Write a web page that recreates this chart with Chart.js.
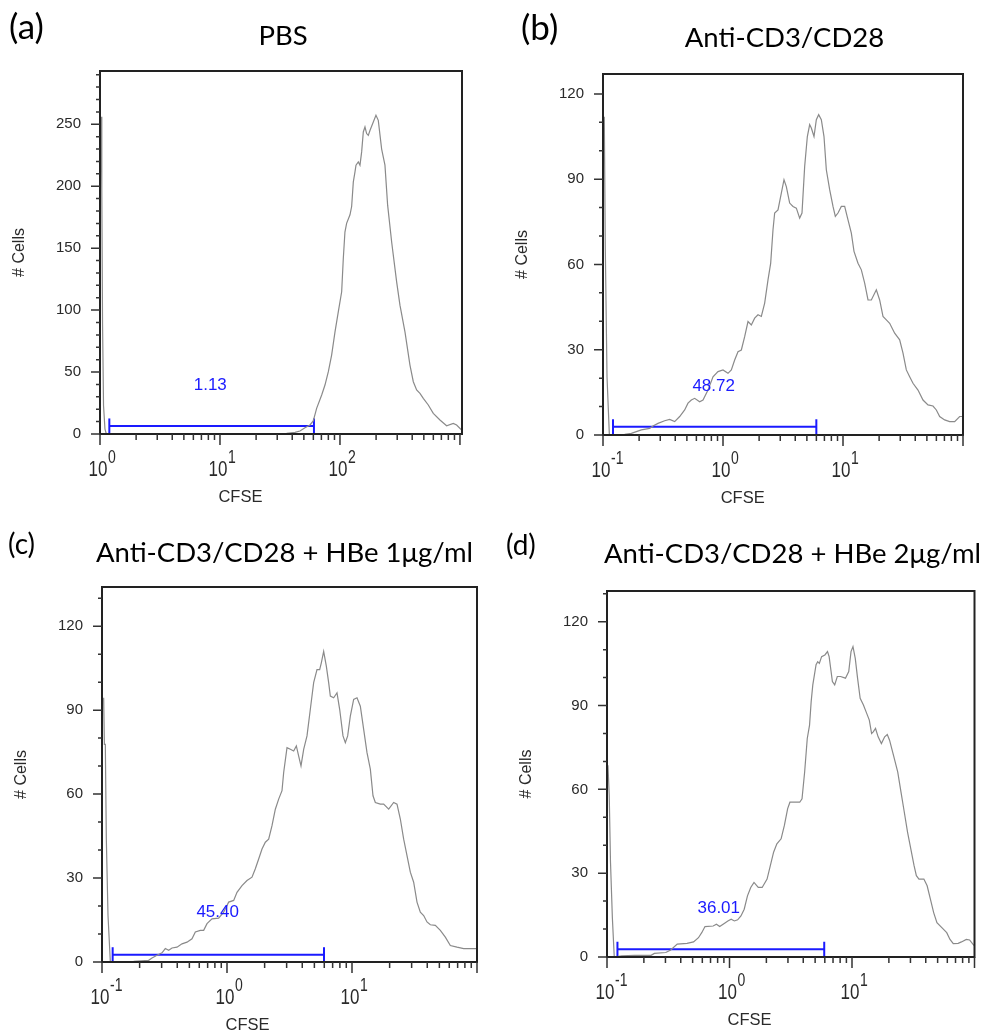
<!DOCTYPE html>
<html>
<head>
<meta charset="utf-8">
<script src="https://cdn.jsdelivr.net/npm/chart.js@4.4.1/dist/chart.umd.min.js"></script>
<style>
  body { margin: 0; background: #fff; width: 984px; height: 1034px; overflow: hidden; position: relative; }
  canvas { position: absolute; }
</style>
</head>
<body>
<canvas id="panelA" width="492" height="517" style="left:0px;top:0px"></canvas>
<canvas id="panelB" width="492" height="517" style="left:492px;top:0px"></canvas>
<canvas id="panelC" width="492" height="517" style="left:0px;top:517px"></canvas>
<canvas id="panelD" width="492" height="517" style="left:492px;top:517px"></canvas>
<script>
// panel names and axis ranges
var panelLetters = ['(a)', '(b)', '(c)', '(d)'];
var panelTitles = ['PBS', 'Anti-CD3/CD28', 'Anti-CD3/CD28 + HBe 1\u03bcg/ml', 'Anti-CD3/CD28 + HBe 2\u03bcg/ml'];
var xMin = [1, 0.1, 0.1, 0.1];
var xMax = [1040, 100, 100, 100];
var yMax = [293, 127, 134, 131];
var yLabelStep = [50, 30, 30, 30];

// histograms (CFSE intensity, # cells)
var pbsCfse = [1.022, 1.035, 1.05, 1.07, 1.10, 1.13,
  35.9, 42.2, 46.4, 51.1, 56.2, 59.9, 63.9, 70.4, 75.0, 80.0,
  85.2, 90.9, 96.9, 103.3, 106.6, 110.0, 113.6, 121.2, 125.1, 129.2,
  133.4, 136.0, 142.2, 146.8, 151.6, 156.5, 161.6, 166.8, 172.2, 177.8,
  189.6, 199.5, 208.6, 222.5, 237.1, 249.6, 269.6, 296.7, 316.2, 348.1,
  383.1, 408.5, 435.5, 464.2, 494.9, 544.6, 599.5, 681.3, 774.3, 879.9,
  938, 1033];
var pbsCells = [256, 197, 89, 23, 4, 0,
  0.5, 1.3, 2.4, 5.1, 7.3, 10.5, 20.7, 31.5, 39.5, 50.3,
  63.7, 82.5, 98.7, 114.8, 141.7, 163, 170, 176.9, 183.6, 203.5,
  211.6, 217, 219.6, 217, 227.7, 243.8, 247.8, 242.5, 241, 245,
  251.9, 257.3, 253.2, 230, 217, 184.7, 155, 122.8, 104, 82.5,
  55.6, 42.2, 35.5, 32.8, 28.8, 23.4, 16.7, 11.3, 6.7, 8.6,
  7.3, 3.2];

var cd3Cfse = [0.1025, 0.1045, 0.108, 0.113,
  0.1516, 0.1722, 0.1896, 0.2086, 0.2448, 0.2610, 0.2873, 0.3265, 0.3594, 0.3957,
  0.4355, 0.4793, 0.5109, 0.5447, 0.5806, 0.6390, 0.6813, 0.7499, 0.8254, 0.9085,
  1.0, 1.1007, 1.1735, 1.2510, 1.3335, 1.4218, 1.5157, 1.6156, 1.7223, 1.8362,
  1.9574, 2.0866, 2.2244, 2.3714, 2.4956, 2.6102, 2.6950, 2.8731, 3.0627, 3.2234,
  3.3710, 3.5938, 3.8309, 4.0840, 4.3539, 4.5529, 4.7931, 5.0445, 5.2750, 5.4463,
  5.7322, 5.9948, 6.2688, 6.5975, 6.9443, 7.2617, 7.7426, 8.2540, 8.6310, 9.0846,
  9.6850, 10.325, 11.007, 11.735, 12.350, 13.335, 14.218, 15.157, 16.156, 17.223,
  18.957, 20.210, 21.544, 22.967, 24.484, 26.950, 29.664, 31.623, 33.711, 35.938,
  38.309, 42.170, 46.416, 51.09, 56.23, 59.95, 63.91, 70.35, 77.43, 85.23,
  93.8, 100];
var cd3Cells = [112, 66, 20.5, 0,
  0.2, 0.6, 1.2, 1.8, 2.3, 3.2, 4.1, 5.0, 5.5, 4.7,
  6.5, 8.8, 11.2, 12.3, 12.9, 11.7, 12.3, 15.8, 20.5, 22.3,
  22.9, 21.7, 22.9, 26.4, 29.3, 29.9, 34.6, 39.9, 38.7, 41.1,
  42.3, 41.7, 46.4, 54.6, 60.4, 72.2, 78.1, 79.2, 85.1, 89.8,
  87.4, 81.6, 80.4, 79.8, 76.3, 78.1, 94.5, 105, 109.2, 108,
  105, 110.9, 112.7, 110.9, 105, 93.3, 86.3, 80.4, 76.9, 78.1,
  80.4, 80.4, 75.7, 71, 64.6, 60.4, 58.1, 53.4, 47.5, 47.5,
  51.1, 47.5, 41.7, 40.5, 39.3, 35.8, 33.5, 28.8, 22.9, 20.5,
  18.2, 15.8, 12.3, 10.6, 10.2, 8.8, 6.5, 5.3, 4.7, 4.7,
  6.5, 6.5];

var hbe1Cfse = [0.1031, 0.1045, 0.1063, 0.1083, 0.1117, 0.1166,
  0.1792, 0.2362, 0.2512, 0.2754, 0.3020, 0.3210, 0.3415, 0.3631, 0.3981, 0.4365,
  0.4786, 0.5248, 0.5580, 0.6119, 0.6506, 0.6918, 0.7586, 0.8577, 0.9404, 1.0312,
  1.1307, 1.2023, 1.3183, 1.4454, 1.5849, 1.6853, 1.7920, 1.9055, 2.0262, 2.1544,
  2.2909, 2.4360, 2.5903, 2.7542, 2.8404, 3.0200, 3.2119, 3.4145, 3.5871, 3.7448,
  3.9084, 4.1058, 4.3652, 4.6416, 4.9353, 5.2481, 5.5118, 5.6833, 5.9330, 6.2320,
  6.5063, 6.7090, 7.1350, 7.5858, 7.9676, 8.4723, 8.8444, 9.2332, 9.6980, 10.312,
  10.965, 11.659, 12.398, 13.183, 14.017, 14.723, 15.371, 16.855, 17.920, 19.651,
  21.544, 22.909, 24.360, 25.903, 27.542, 29.286, 31.140, 33.113, 35.209, 37.439,
  39.811, 42.329, 46.416, 50.896, 55.807, 61.192, 69.183, 78.22, 94.04, 100];
var hbe1Cells = [94.4, 77.8, 77.8, 44, 16.6, 0,
  0.2, 0.6, 1.4, 2.4, 3.3, 4.8, 4.2, 5.0, 5.3, 6.5,
  7.1, 8.3, 10.7, 11.3, 11.3, 13.7, 15.4, 15.7, 17.8, 21.4,
  22.0, 24.9, 27.3, 29.1, 30.3, 33.3, 36.8, 40.4, 42.8, 43.9,
  48.7, 54.6, 58.2, 61.2, 67.7, 76.6, 76.0, 75.4, 77.2, 73.6,
  70.1, 76.0, 80.8, 90.3, 99.8, 104.5, 104.5, 106.9, 111.0, 105.7,
  99.8, 95.0, 94.4, 96.2, 90.3, 80.8, 78.4, 80.8, 87.9, 93.8,
  94.4, 91.4, 83.1, 74.8, 68.9, 59.4, 57.0, 56.4, 56.4, 54.6,
  57.0, 56.4, 51.1, 43.9, 38.0, 32.1, 28.5, 21.4, 17.8, 16.6,
  14.3, 13.3, 13.1, 11.3, 8.9, 5.9, 5.3, 4.8, 4.8, 4.8];

var hbe2Cfse = [0.1018, 0.1043, 0.1068, 0.1106, 0.1146,
  0.1318, 0.1685, 0.2291, 0.2436, 0.3020, 0.3311, 0.3744, 0.4500, 0.5088, 0.5580,
  0.5934, 0.6310, 0.7356, 0.7820, 0.8318, 0.9120, 0.9698, 1.0312, 1.0965, 1.1659,
  1.2398, 1.3183, 1.4017, 1.4905, 1.5849, 1.7170, 1.8478, 2.0262, 2.1544, 2.2909,
  2.4360, 2.6382, 2.8054, 2.9836, 3.1140, 3.4145, 3.7448, 3.9084, 4.1058, 4.3132,
  4.5027, 4.6416, 4.7863, 5.0895, 5.2481, 5.4117, 5.6494, 6.0078, 6.3096, 6.5063,
  6.9183, 7.2225, 7.5858, 8.0664, 8.8444, 9.4044, 9.8175, 10.186, 10.633, 11.101,
  11.659, 12.398, 13.183, 13.845, 14.454, 14.905, 15.560, 16.343, 17.378, 18.478,
  19.409, 20.262, 21.817, 23.632, 25.119, 26.710, 28.402, 30.200, 32.119, 33.527,
  35.209, 38.614, 41.058, 43.652, 46.416, 49.353, 54.117, 59.330, 63.096, 67.093,
  73.564, 78.22, 85.77, 91.20, 96.98, 100];
var hbe2Cells = [68.6, 57.8, 33.9, 14.1, 0,
  0.4, 0.6, 0.6, 1.3, 1.6, 2.5, 4.6, 4.9, 5.4, 6.9,
  8.7, 10.9, 11.1, 11.7, 10.9, 12.1, 12.9, 13.5, 12.9, 13.3,
  14.7, 17.1, 21.9, 24.9, 26.7, 24.9, 24.9, 27.9, 32.7, 37.5,
  40.5, 42.3, 47.1, 53.1, 55.4, 55.4, 55.4, 56.6, 66.2, 78.2,
  83.0, 91.4, 97.4, 104.6, 105.7, 105.1, 107.5, 108.1, 109.3, 107.5,
  98.6, 97.4, 100.4, 100.4, 99.8, 102.2, 109.3, 111.1, 106.9, 99.8,
  92.6, 90.2, 87.2, 84.8, 80, 80.6, 81.8, 78.8, 76.4, 78.8,
  79.6, 77.6, 72.2, 66.2, 59.0, 51.9, 44.7, 38.7, 32.7, 29.1,
  27.9, 27.9, 25.5, 20.7, 15.9, 12.3, 10.5, 8.7, 6.3, 4.8,
  4.9, 5.4, 6.3, 6.1, 4.6, 4.0];

// marker gates (range, level, percentage label)
var gateLow = [1.196, 0.1212, 0.1217, 0.1217];
var gateHigh = [60.7, 5.995, 5.97, 5.933];
var gateLevel = [6.5, 2.9, 2.6, 2.75];
var gateText = ['1.13', '48.72', '45.40', '36.01'];
var gateTextX = [8.3, 0.836, 0.842, 0.817];
var gateTextY = [39, 17, 17.6, 17.4];

var seriesCfse = [pbsCfse, cd3Cfse, hbe1Cfse, hbe2Cfse];
var seriesCells = [pbsCells, cd3Cells, hbe1Cells, hbe2Cells];

// canvas layout, one per panel
var boxes = [
  { id: 'panelA', pad: { left: 0, top: 71, right: 30, bottom: 83 }, yW: 100, letterX: 9, letterY: 39, letterSize: 35, titleX: 283, titleY: 45 },
  { id: 'panelB', pad: { left: 0, top: 74, right: 21, bottom: 82 }, yW: 111, letterX: 29, letterY: 40, letterSize: 35, titleX: 292.5, titleY: 47 },
  { id: 'panelC', pad: { left: 0, top: 70, right: 15, bottom: 72 }, yW: 102, letterX: 8, letterY: 37, letterSize: 28, titleX: 284.5, titleY: 45 },
  { id: 'panelD', pad: { left: 0, top: 74, right: 2, bottom: 77 }, yW: 115, letterX: 14, letterY: 38, letterSize: 28, titleX: 300.5, titleY: 46 }
];

var SANS = '"Liberation Sans", Arial, sans-serif';
var BLUE = '#1a1aff';

var decor = {
  id: 'decor',
  afterDraw: function (chart, args, o) {
    var ctx = chart.ctx, a = chart.chartArea;
    var xs = chart.scales.x, ys = chart.scales.y;
    ctx.save();

    // frame
    ctx.strokeStyle = '#222';
    ctx.lineWidth = 2;
    ctx.strokeRect(a.left, a.top, a.right - a.left, a.bottom - a.top);

    // tick marks
    ctx.strokeStyle = '#333';
    ctx.lineWidth = 1.5;
    ctx.beginPath();
    for (var v = 0; v <= ys.max; v += 10) {
      var py = ys.getPixelForValue(v);
      var len = v % o.labelStep === 0 ? 9 : 4;
      ctx.moveTo(a.left - len, py);
      ctx.lineTo(a.left, py);
    }
    var e0 = Math.round(Math.log10(xs.min)), e1 = Math.ceil(Math.log10(xs.max));
    for (var e = e0; e <= e1; e++) {
      for (var m = 1; m < 10; m++) {
        var val = m * Math.pow(10, e);
        if (val < xs.min * 0.999 || val > xs.max * 1.001) continue;
        var px = xs.getPixelForValue(val);
        ctx.moveTo(px, a.bottom);
        ctx.lineTo(px, a.bottom + (m === 1 ? 11 : 6));
      }
    }
    ctx.stroke();

    // decade labels 10^n
    ctx.fillStyle = '#2a2a2a';
    ctx.textBaseline = 'alphabetic';
    for (e = e0; e <= e1; e++) {
      var dv = Math.pow(10, e);
      if (dv < xs.min * 0.999 || dv > xs.max * 0.95) continue;
      var dx = xs.getPixelForValue(dv);
      ctx.save();
      ctx.translate(dx, a.bottom + 42);
      ctx.scale(1, 1.25);
      ctx.font = '17px ' + SANS;
      ctx.textAlign = 'right';
      ctx.fillText('10', 7.5, 0);
      ctx.font = '14px ' + SANS;
      ctx.textAlign = 'left';
      ctx.fillText(String(e), 8, -10.4);
      ctx.restore();
    }

    // axis titles
    ctx.font = '16.5px ' + SANS;
    ctx.textAlign = 'center';
    ctx.fillText('CFSE', a.left + 0.388 * (a.right - a.left), a.bottom + 68);
    ctx.save();
    ctx.translate(a.left - 80, (a.top + a.bottom) / 2);
    ctx.rotate(-Math.PI / 2);
    ctx.font = '16px ' + SANS;
    ctx.textBaseline = 'middle';
    ctx.fillText('# Cells', 0, 0);
    ctx.restore();

    // gate percentage
    ctx.fillStyle = BLUE;
    ctx.font = '17px ' + SANS;
    ctx.textBaseline = 'middle';
    ctx.fillText(o.gateText, xs.getPixelForValue(o.gateX), ys.getPixelForValue(o.gateY));

    // panel letter and title
    ctx.fillStyle = '#000';
    ctx.textBaseline = 'alphabetic';
    ctx.textAlign = 'left';
    ctx.font = o.letterSize + 'px Lato, "Open Sans", sans-serif';
    ctx.fillText(o.letter, o.letterX, o.letterY);
    ctx.textAlign = 'center';
    ctx.font = '27.5px Lato, "Open Sans", sans-serif';
    ctx.fillText(o.title, o.titleX, o.titleY);
    ctx.restore();
  }
};

boxes.forEach(function (b, i) {
  var cfse = seriesCfse[i], cells = seriesCells[i];
  var curve = cfse.map(function (x, k) { return { x: x, y: cells[k] }; });
  var gate = [{ x: gateLow[i], y: gateLevel[i] }, { x: gateHigh[i], y: gateLevel[i] }];
  var step = yLabelStep[i];

  new Chart(document.getElementById(b.id).getContext('2d'), {
    type: 'line',
    data: {
      datasets: [
        {
          label: panelTitles[i],
          data: curve,
          borderColor: '#8a8a8a',
          borderWidth: 1.2,
          pointRadius: 0,
          tension: 0,
          fill: false
        },
        {
          label: 'gate',
          data: gate,
          borderColor: BLUE,
          borderWidth: 2,
          pointStyle: 'line',
          pointRotation: 90,
          pointRadius: 7.5,
          pointBorderColor: BLUE,
          pointBorderWidth: 2,
          fill: false
        }
      ]
    },
    options: {
      responsive: false,
      animation: false,
      devicePixelRatio: 1,
      layout: { padding: b.pad },
      scales: {
        x: {
          type: 'logarithmic',
          display: false,
          min: xMin[i],
          max: xMax[i]
        },
        y: {
          type: 'linear',
          min: 0,
          max: yMax[i],
          grid: { display: false, drawTicks: false },
          border: { display: false },
          ticks: {
            stepSize: 10,
            autoSkip: false,
            padding: 19,
            color: '#2a2a2a',
            font: { family: SANS, size: 15 },
            callback: function (v) { return v % step === 0 ? String(v) : ''; }
          },
          afterFit: function (scale) { scale.width = b.yW; }
        }
      },
      plugins: {
        legend: { display: false },
        tooltip: { enabled: false },
        decor: {
          labelStep: step,
          gateText: gateText[i],
          gateX: gateTextX[i],
          gateY: gateTextY[i],
          letter: panelLetters[i],
          letterX: b.letterX,
          letterY: b.letterY,
          letterSize: b.letterSize,
          title: panelTitles[i],
          titleX: b.titleX,
          titleY: b.titleY
        }
      }
    },
    plugins: [decor]
  });
});
</script>
</body>
</html>
